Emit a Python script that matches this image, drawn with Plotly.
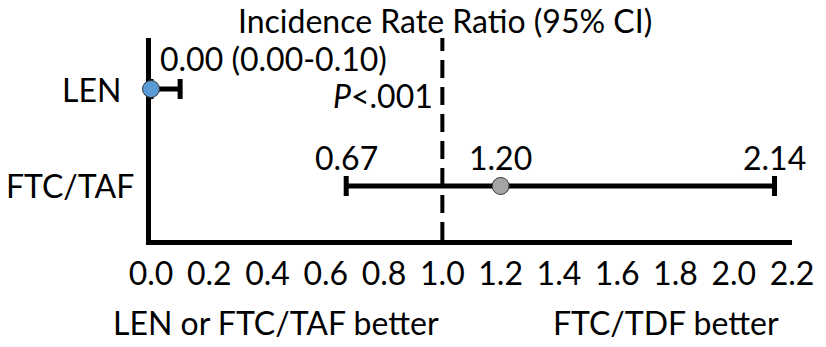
import plotly.graph_objects as go

groups = ["LEN", "FTC/TAF"]
irr = [0.00, 1.20]
ci_low = [0.00, 0.67]
ci_high = [0.10, 2.14]
colors = ["#5B9BD5", "#A5A5A5"]
ypos = [1, 0]
xticks = [0.0, 0.2, 0.4, 0.6, 0.8, 1.0, 1.2, 1.4, 1.6, 1.8, 2.0, 2.2]

FONT = "Lato"
FS = 32

L, R = 151, 798  # pixel positions of x=0 and x=2.2
W = R - L

fig = go.Figure()
for g, v, lo, hi, c, y in zip(groups, irr, ci_low, ci_high, colors, ypos):
    fig.add_trace(go.Scatter(
        x=[v], y=[y], mode="markers",
        marker=dict(size=17, color=c, line=dict(color="#333333", width=1)),
        error_x=dict(type="data", symmetric=False, array=[hi - v], arrayminus=[v - lo],
                     thickness=5, width=10, color="black"),
        showlegend=False, cliponaxis=False,
    ))

fig.add_shape(type="line", x0=1.0, x1=1.0, xref="x", yref="paper", y0=0, y1=1,
              line=dict(color="black", width=4, dash="18px,9px"), layer="below")

ann = [
    dict(x=0.025, y=1.31, text=f"{irr[0]:.2f} ({ci_low[0]:.2f}-{ci_high[0]:.2f})", xanchor="left"),
    dict(x=0.975, y=0.93, text="<i>P</i><.001", xanchor="right"),
    dict(x=ci_low[1], y=0.29, text=f"{ci_low[1]:.2f}", xanchor="center"),
    dict(x=irr[1], y=0.29, text=f"{irr[1]:.2f}", xanchor="center"),
    dict(x=ci_high[1], y=0.29, text=f"{ci_high[1]:.2f}", xanchor="center"),
]
for a in ann:
    fig.add_annotation(xref="x", yref="y", showarrow=False, yanchor="middle",
                       font=dict(family=FONT, size=FS, color="black"), **a)

for g, y, px in zip(groups, ypos, [123, 136]):
    fig.add_annotation(xref="paper", yref="y", x=(px - L) / W, y=y, text=g,
                       showarrow=False, xanchor="right", yanchor="middle",
                       font=dict(family=FONT, size=FS, color="black"))

fig.add_annotation(xref="paper", yref="paper", x=(448 - L) / W, y=1 + 38 / 202,
                   text="Incidence Rate Ratio (95% CI)", showarrow=False,
                   xanchor="center", yanchor="top", borderpad=0,
                   font=dict(family=FONT, size=FS, color="black"))
fig.add_annotation(xref="paper", yref="paper", x=(277 - L) / W, y=-(322 - 240) / 202,
                   text="LEN or FTC/TAF better", showarrow=False,
                   xanchor="center", yanchor="middle",
                   font=dict(family=FONT, size=FS, color="black"))
fig.add_annotation(xref="paper", yref="paper", x=(671 - L) / W, y=-(322 - 240) / 202,
                   text="FTC/TDF better", showarrow=False,
                   xanchor="center", yanchor="middle",
                   font=dict(family=FONT, size=FS, color="black"))

fig.update_xaxes(range=[0, 2.2], tickvals=xticks, tickformat=".1f",
                 showline=True, linewidth=5, linecolor="black", showgrid=False,
                 zeroline=False, ticks="", ticklabelstandoff=2, layer="below traces",
                 tickfont=dict(family=FONT, size=FS, color="black"))
fig.update_yaxes(range=[-0.557, 1.526], showticklabels=False,
                 showline=True, linewidth=5, linecolor="black", showgrid=False,
                 zeroline=False, ticks="", layer="below traces")

fig.update_layout(width=826, height=347, margin=dict(l=L, r=826 - R, t=38, b=107),
                  plot_bgcolor="white", paper_bgcolor="white")

fig.write_html("out.html")
